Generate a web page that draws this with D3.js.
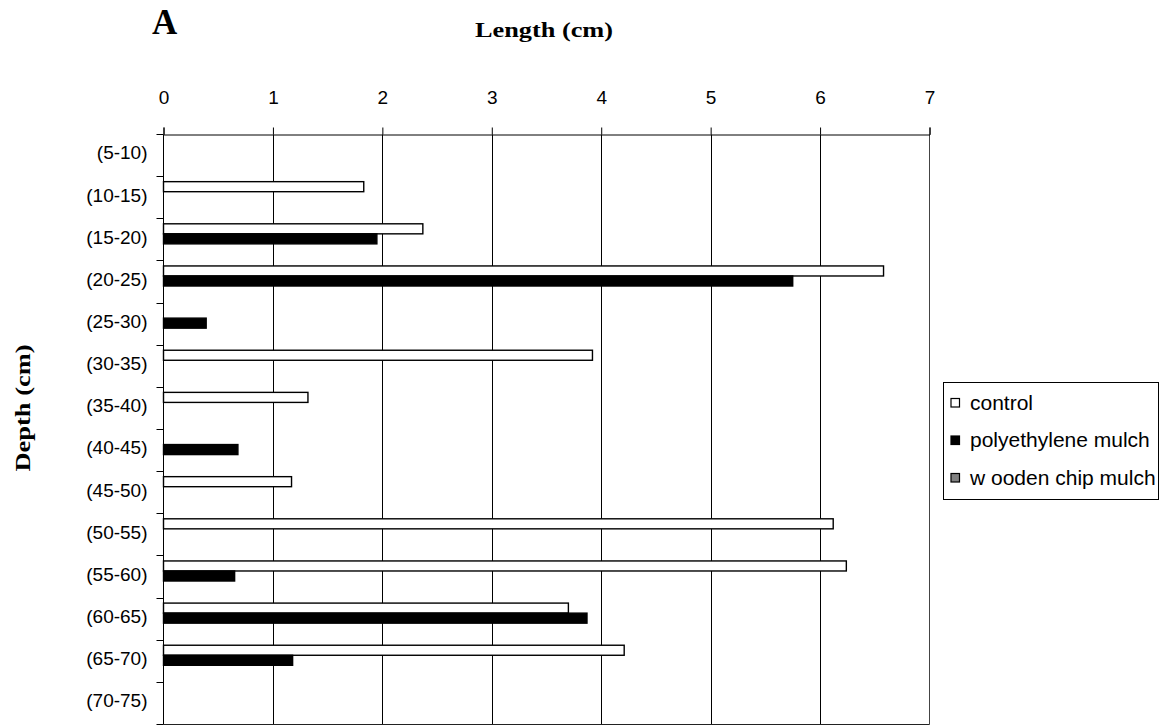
<!DOCTYPE html>
<html>
<head>
<meta charset="utf-8">
<script src="https://cdn.jsdelivr.net/npm/d3@7"></script>
<style>
  html, body { margin: 0; padding: 0; background: #fff; }
  svg { display: block; }
</style>
</head>
<body>
<script>
// ---- data ----
const categories = ["(5-10)", "(10-15)", "(15-20)", "(20-25)", "(25-30)", "(30-35)", "(35-40)",
  "(40-45)", "(45-50)", "(50-55)", "(55-60)", "(60-65)", "(65-70)", "(70-75)"];
const seriesNames = ["control", "polyethylene mulch", "w ooden chip mulch"];
const controlValues = [0, 1.83, 2.37, 6.58, 0, 3.92, 1.32, 0, 1.17, 6.12, 6.24, 3.70, 4.21, 0];
const polyethyleneValues = [0, 0, 1.95, 5.75, 0.39, 0, 0, 0.68, 0, 0, 0.65, 3.87, 1.18, 0];
const woodenChipValues = [0, 0, 0, 0, 0, 0, 0, 0, 0, 0, 0, 0, 0, 0];
const xTicks = [0, 1, 2, 3, 4, 5, 6, 7];
const seriesFill = ["#ffffff", "#000000", "#808080"];

(function () {
const W = 1166, H = 727;
const pLeft = 163.5, pRight = 929.5, pTop = 134.5, pBottom = 724.5;

const svg = d3.select("body").append("svg").attr("width", W).attr("height", H);

const x = d3.scaleLinear().domain([0, 7]).range([pLeft, pRight]);
const y = d3.scaleBand().domain(categories).range([pTop, pBottom]).padding(0);
const ys = d3.scaleBand().domain(seriesNames).range([0, y.bandwidth()]).paddingInner(0).paddingOuter(0.6);

// gridlines
svg.append("g").selectAll("line").data(xTicks.filter(d => d > 0 && d < 7)).join("line")
  .attr("x1", d => Math.round(x(d)) + 0.5).attr("x2", d => Math.round(x(d)) + 0.5)
  .attr("y1", pTop).attr("y2", pBottom)
  .attr("stroke", "#000").attr("stroke-width", 1);

// plot border right & bottom
svg.append("line").attr("x1", pRight).attr("x2", pRight).attr("y1", pTop).attr("y2", pBottom)
  .attr("stroke", "#444").attr("stroke-width", 1);
svg.append("line").attr("x1", pLeft).attr("x2", pRight).attr("y1", pBottom).attr("y2", pBottom)
  .attr("stroke", "#222").attr("stroke-width", 1);

// bars
const seriesData = [controlValues, polyethyleneValues, woodenChipValues];
seriesData.forEach((vals, si) => {
  svg.append("g").selectAll("rect").data(vals.map((v, i) => ({ v, c: categories[i] })).filter(d => d.v > 0))
    .join("rect")
    .attr("x", x(0))
    .attr("y", d => y(d.c) + ys(seriesNames[si]) - 1)
    .attr("width", d => x(d.v) - x(0))
    .attr("height", ys.bandwidth())
    .attr("fill", seriesFill[si])
    .attr("stroke", "#000")
    .attr("stroke-width", 1.4);
});

// top x axis
const xAxis = d3.axisTop(x).tickValues(xTicks).tickSize(7).tickPadding(23.5).tickFormat(d3.format("d"));
const gx = svg.append("g").attr("transform", `translate(0,${pTop})`).call(xAxis);
gx.select(".domain").attr("stroke", "#000");
gx.selectAll(".tick line").attr("stroke", "#000");
gx.selectAll("text").attr("font-family", "'Liberation Sans', Arial, sans-serif")
  .attr("font-size", 19).attr("fill", "#000");

// left y axis: labels at band centers
const yAxis = d3.axisLeft(y).tickSize(0).tickPadding(16);
const gy = svg.append("g").attr("transform", `translate(${pLeft},0)`).call(yAxis);
gy.select(".domain").remove();
gy.selectAll("text").attr("font-family", "'Liberation Sans', Arial, sans-serif")
  .attr("font-size", 19).attr("fill", "#000").attr("dy", "0.2em");
// y axis line and boundary ticks
svg.append("line").attr("x1", pLeft).attr("x2", pLeft).attr("y1", pTop).attr("y2", pBottom)
  .attr("stroke", "#000");
const bounds = categories.map(c => y(c)).concat([pBottom]);
svg.append("g").selectAll("line").data(bounds).join("line")
  .attr("x1", pLeft - 7).attr("x2", pLeft)
  .attr("y1", d => Math.round(d - 0.5) + 0.5).attr("y2", d => Math.round(d - 0.5) + 0.5)
  .attr("stroke", "#000");

// titles
svg.append("text").attr("x", 152).attr("y", 34)
  .attr("font-family", "'Liberation Serif', 'Times New Roman', serif")
  .attr("font-weight", "bold").attr("font-size", 35).text("A");
svg.append("text").attr("x", 475).attr("y", 37)
  .attr("font-family", "'Liberation Serif', 'Times New Roman', serif")
  .attr("font-weight", "bold").attr("font-size", 22)
  .attr("textLength", 138).attr("lengthAdjust", "spacingAndGlyphs")
  .text("Length (cm)");
svg.append("text").attr("transform", "translate(30,408) rotate(-90)")
  .attr("text-anchor", "middle")
  .attr("font-family", "'Liberation Serif', 'Times New Roman', serif")
  .attr("font-weight", "bold").attr("font-size", 22)
  .attr("textLength", 127).attr("lengthAdjust", "spacingAndGlyphs")
  .text("Depth (cm)");

// legend
const lg = svg.append("g");
lg.append("rect").attr("x", 943.5).attr("y", 382.5).attr("width", 215).attr("height", 117)
  .attr("fill", "#fff").attr("stroke", "#000");
const itemY = d3.scalePoint().domain(seriesNames).range([402.5, 477.5]);
const items = lg.selectAll("g.item").data(seriesNames).join("g").attr("class", "item")
  .attr("transform", d => `translate(0,${itemY(d)})`);
items.append("rect").attr("x", 951).attr("y", -4).attr("width", 8.5).attr("height", 8.5)
  .attr("fill", (d, i) => seriesFill[i]).attr("stroke", "#000").attr("stroke-width", 1.2);
items.append("text").attr("x", 970).attr("y", 7)
  .attr("font-family", "'Liberation Sans', Arial, sans-serif").attr("font-size", 21)
  .text(d => d);
})();
</script>
</body>
</html>
